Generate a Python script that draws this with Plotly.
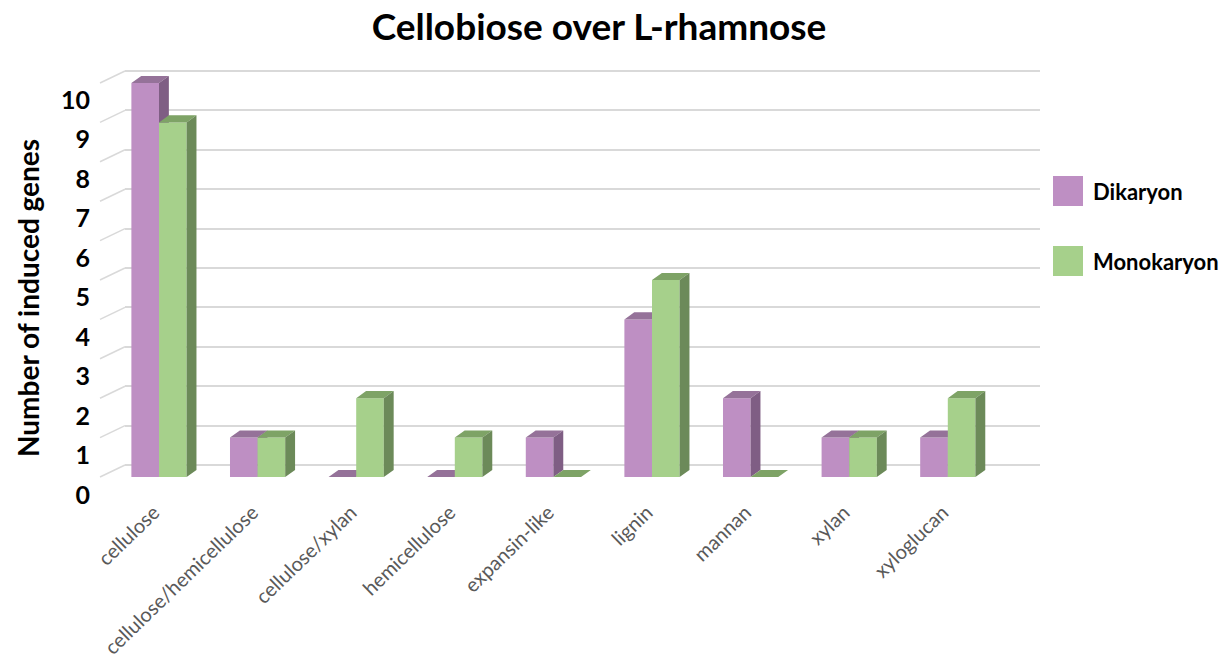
import plotly.graph_objects as go

categories = ["cellulose", "cellulose/hemicellulose", "cellulose/xylan", "hemicellulose",
              "expansin-like", "lignin", "mannan", "xylan", "xyloglucan"]
dikaryon = [10, 1, 0, 0, 1, 4, 2, 1, 1]
monokaryon = [9, 1, 2, 1, 0, 5, 0, 1, 2]
y_ticks = list(range(0, 11))

series = [
    ("Dikaryon", dikaryon, "#BE8FC3", "#957299", "#7F5E84"),
    ("Monokaryon", monokaryon, "#A6D08B", "#7EA366", "#6C8A59"),
]

BAR_W = 0.28
DX = 0.10
DY = 0.18

FONT = "Lato"
L, R, T, B = 125, 1040, 55, 496
W_FIG, H_FIG = 1232, 663

fig = go.Figure()

for s_idx, (name, vals, c_front, c_top, c_side) in enumerate(series):
    fx, fy, tx, ty, sx, sy = [], [], [], [], [], []
    for i, v in enumerate(vals):
        x0 = i - BAR_W if s_idx == 0 else i
        x1 = x0 + BAR_W
        fx += [x0, x1, x1, x0, x0, None]
        fy += [0, 0, v, v, 0, None]
        tx += [x0, x1, x1 + DX, x0 + DX, x0, None]
        ty += [v, v, v + DY, v + DY, v, None]
        sx += [x1, x1 + DX, x1 + DX, x1, x1, None]
        sy += [0, DY, v + DY, v, 0, None]
    fig.add_trace(go.Scatter(x=fx, y=fy, fill="toself", mode="none", fillcolor=c_front,
                             name=name, showlegend=False, hoverinfo="skip"))
    fig.add_trace(go.Scatter(x=tx, y=ty, fill="toself", mode="none", fillcolor=c_top,
                             showlegend=False, hoverinfo="skip"))
    fig.add_trace(go.Scatter(x=sx, y=sy, fill="toself", mode="none", fillcolor=c_side,
                             showlegend=False, hoverinfo="skip"))

# pixel mapping helpers for axis ranges
PX_PER_UNIT = 39.4
FRONT_ZERO = 477
BACK_ZERO = 465
LABEL_ZERO = 496
LABEL_PX = 39.6
CAT_ZERO_PX = 159
CAT_PX = 98.6

def rng(zero_px, per):
    return [(zero_px - B) / per, (zero_px - T) / per]

x_range = [(L - CAT_ZERO_PX) / CAT_PX, (R - CAT_ZERO_PX) / CAT_PX]

fig.update_layout(
    width=W_FIG, height=H_FIG,
    margin=dict(l=L, r=W_FIG - R, t=T, b=H_FIG - B),
    paper_bgcolor="white", plot_bgcolor="white",
    showlegend=False,
    title=dict(text="<b>Cellobiose over L-rhamnose</b>", x=599 / W_FIG, xanchor="center",
               y=1 - 27 / H_FIG, yanchor="middle",
               font=dict(family=FONT, size=37, color="black")),
    xaxis=dict(range=x_range, tickmode="array", tickvals=list(range(len(categories))),
               ticktext=categories, tickangle=-44, showgrid=False, zeroline=False,
               showline=False, tickfont=dict(family=FONT, size=20, color="#595959"),
               ticks="", automargin=False, ticklabelshift=-5),
    yaxis=dict(range=rng(FRONT_ZERO, PX_PER_UNIT), showgrid=False, zeroline=False,
               showticklabels=False, showline=False, automargin=False),
    yaxis2=dict(range=rng(BACK_ZERO, PX_PER_UNIT), overlaying="y", tickmode="array",
                tickvals=y_ticks, showgrid=True, gridcolor="#D9D9D9", gridwidth=1.5,
                zeroline=False, showticklabels=False, showline=False, automargin=False),
    yaxis3=dict(range=[(LABEL_ZERO - B) / LABEL_PX - 0.02, (LABEL_ZERO - T) / LABEL_PX],
                overlaying="y", tickmode="array",
                tickvals=y_ticks, ticktext=[f"<b>{t}</b>" for t in y_ticks],
                showgrid=False, zeroline=False, showline=False, automargin=False,
                tickfont=dict(family=FONT, size=25, color="black"),
                ticklabelstandoff=34),
)

# dummy traces to activate overlay axes
fig.add_trace(go.Scatter(x=[None], y=[None], yaxis="y2", showlegend=False))
fig.add_trace(go.Scatter(x=[None], y=[None], yaxis="y3", showlegend=False))

# left side wall grid diagonals (front plane -> back wall)
dw = L - 100
back_off = (FRONT_ZERO - BACK_ZERO) / PX_PER_UNIT
for t in y_ticks:
    fig.add_shape(type="line", xref="paper", yref="y2",
                  x0=-dw / (R - L), x1=0, y0=t - back_off, y1=t,
                  line=dict(color="#D9D9D9", width=1.5), layer="below")

# y-axis title
fig.add_annotation(text="<b>Number of induced genes</b>", textangle=-90,
                   xref="paper", yref="paper", x=(28 - L) / (R - L), y=(B - 298) / (B - T),
                   xanchor="center", yanchor="middle", showarrow=False,
                   font=dict(family=FONT, size=28, color="black"))

# legend
legend_items = [("Dikaryon", series[0][2], 191), ("Monokaryon", series[1][2], 261)]
for label, col, cy in legend_items:
    fig.add_shape(type="rect", xref="paper", yref="paper",
                  x0=(1053 - L) / (R - L), x1=(1083 - L) / (R - L),
                  y0=(B - (cy + 15)) / (B - T), y1=(B - (cy - 15)) / (B - T),
                  fillcolor=col, line=dict(width=0))
    fig.add_annotation(text=f"<b>{label}</b>", xref="paper", yref="paper",
                       x=(1091 - L) / (R - L), y=(B - cy) / (B - T),
                       xanchor="left", yanchor="middle", showarrow=False,
                       font=dict(family=FONT, size=22, color="black"))

fig.write_html("out.html")
